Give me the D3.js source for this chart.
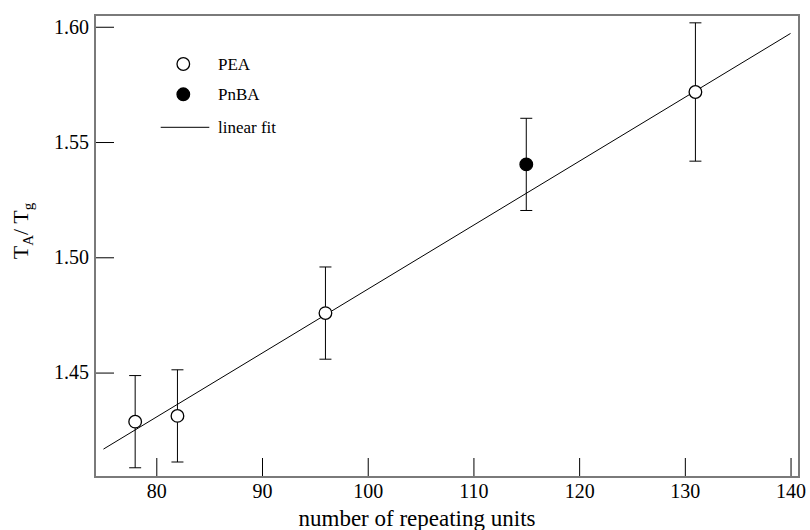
<!DOCTYPE html>
<html>
<head>
<meta charset="utf-8">
<script src="https://cdn.jsdelivr.net/npm/d3@7"></script>
<style>
  body { margin: 0; background: #fff; }
  svg { display: block; font-family: "Liberation Serif", "DejaVu Serif", serif; }
</style>
</head>
<body>
<svg id="chart" width="810" height="530"></svg>
<script>
// data
const peaUnits = [78, 82, 96, 131];
const peaRatio = [1.4287, 1.4312, 1.4758, 1.5717];
const peaErr = [0.02, 0.02, 0.02, 0.03];

const pnbaUnits = [115];
const pnbaRatio = [1.5403];
const pnbaErr = [0.02];

const fitUnits = [75, 140];
const fitRatio = [1.4168, 1.5971];

const xTicks = [80, 90, 100, 110, 120, 130, 140];
const yTicks = [1.45, 1.50, 1.55, 1.60];

const svg = d3.select('#chart');

// plot frame
const margin = { top: 15, right: 11, bottom: 53, left: 95 };
const width = 810 - margin.left - margin.right;
const height = 530 - margin.top - margin.bottom;

const x = d3.scaleLinear().domain([74.2, 140.8]).range([0, width]);
const y = d3.scaleLinear().domain([1.4047, 1.6051]).range([height, 0]);

const g = svg.append('g').attr('transform', `translate(${margin.left},${margin.top})`);

// axes with inward ticks
const xAxis = g.append('g')
  .attr('transform', `translate(0,${height})`)
  .call(d3.axisBottom(x).tickValues(xTicks).tickSizeInner(-19).tickSizeOuter(0).tickPadding(7));
xAxis.attr('font-family', null).attr('font-size', 20);
xAxis.select('.domain').remove();
xAxis.selectAll('text').attr('fill', '#000');
xAxis.selectAll('line').attr('stroke', '#000');

const yAxis = g.append('g')
  .call(d3.axisLeft(y).tickValues(yTicks).tickFormat(d3.format('.2f')).tickSizeInner(-19).tickSizeOuter(0).tickPadding(6));
yAxis.attr('font-family', null).attr('font-size', 20);
yAxis.select('.domain').remove();
yAxis.selectAll('text').attr('fill', '#000');
yAxis.selectAll('line').attr('stroke', '#000');

// frame box
g.append('rect')
  .attr('x', 0).attr('y', 0)
  .attr('width', width).attr('height', height)
  .attr('fill', 'none')
  .attr('stroke', '#7a7a7a')
  .attr('stroke-width', 2);

// linear fit
const line = d3.line().x((d) => x(d[0])).y((d) => y(d[1]));
g.append('path')
  .datum(fitUnits.map((u, i) => [u, fitRatio[i]]))
  .attr('d', line)
  .attr('fill', 'none')
  .attr('stroke', '#000')
  .attr('stroke-width', 1);

// error bars + markers
const capHalf = 6;
function drawSeries(units, vals, errs, fill) {
  const pts = units.map((u, i) => ({ u, v: vals[i], e: errs[i] }));
  const eb = g.append('g').attr('stroke', '#000').attr('stroke-width', 1);
  pts.forEach((p) => {
    const cx = x(p.u);
    eb.append('line').attr('x1', cx).attr('x2', cx).attr('y1', y(p.v + p.e)).attr('y2', y(p.v - p.e));
    eb.append('line').attr('x1', cx - capHalf).attr('x2', cx + capHalf).attr('y1', y(p.v + p.e)).attr('y2', y(p.v + p.e));
    eb.append('line').attr('x1', cx - capHalf).attr('x2', cx + capHalf).attr('y1', y(p.v - p.e)).attr('y2', y(p.v - p.e));
  });
  g.append('g').selectAll('circle')
    .data(pts)
    .enter()
    .append('circle')
    .attr('cx', (d) => x(d.u))
    .attr('cy', (d) => y(d.v))
    .attr('r', 6.3)
    .attr('fill', fill)
    .attr('stroke', '#000')
    .attr('stroke-width', 1.3);
}
drawSeries(peaUnits, peaRatio, peaErr, '#fff');
drawSeries(pnbaUnits, pnbaRatio, pnbaErr, '#000');

// legend
const legend = svg.append('g').attr('font-size', 17);
legend.append('circle').attr('cx', 183.3).attr('cy', 64).attr('r', 6.3)
  .attr('fill', '#fff').attr('stroke', '#000').attr('stroke-width', 1.3);
legend.append('text').attr('x', 218).attr('y', 70).text('PEA');
legend.append('circle').attr('cx', 183.3).attr('cy', 94.3).attr('r', 6.3)
  .attr('fill', '#000').attr('stroke', '#000').attr('stroke-width', 1.3);
legend.append('text').attr('x', 218).attr('y', 100).text('PnBA');
legend.append('line').attr('x1', 160.7).attr('x2', 209.3).attr('y1', 127.3).attr('y2', 127.3)
  .attr('stroke', '#000').attr('stroke-width', 1);
legend.append('text').attr('x', 218).attr('y', 133).text('linear fit');

// axis titles
svg.append('text')
  .attr('x', 417)
  .attr('y', 526)
  .attr('text-anchor', 'middle')
  .attr('font-size', 23)
  .text('number of repeating units');

const yt = svg.append('text')
  .attr('transform', 'translate(28,231) rotate(-90)')
  .attr('text-anchor', 'middle')
  .attr('font-size', 22);
yt.append('tspan').text('T');
yt.append('tspan').attr('font-size', 15).attr('dy', 5).text('A');
yt.append('tspan').attr('dy', -5).text('/ T');
yt.append('tspan').attr('font-size', 15).attr('dy', 5).text('g');
</script>
</body>
</html>
